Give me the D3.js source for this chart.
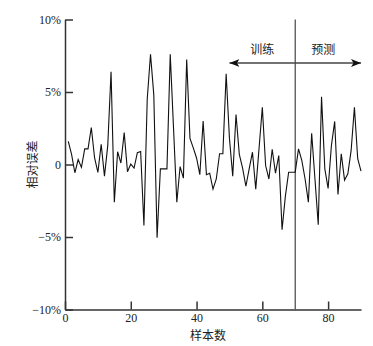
<!DOCTYPE html>
<html>
<head>
<meta charset="utf-8">
<script src="https://cdn.jsdelivr.net/npm/d3@7"></script>
<style>
  body { margin: 0; background: #fff; }
  .tick text { font-family: "Liberation Serif", "Times New Roman", serif; font-size: 12px; fill: #222; }
  .cjk { font-family: "Noto Sans CJK SC", sans-serif; font-size: 12px; fill: #222; }
</style>
</head>
<body>
<svg id="chart" width="373" height="346"></svg>
<script>
// Relative error (%) for samples 1..90
const errors = [
  1.6, 0.7, -0.57, 0.34, -0.2, 1.08, 1.08, 2.55, 0.45, -0.55,
  1.4, -0.8, 1.3, 6.4, -2.6, 0.88, 0.1, 2.2, -0.5, 0.03,
  -0.25, 0.82, 0.9, -4.2, 4.5, 7.6, 4.8, -5.05, -0.3, -0.3,
  -0.3, 7.6, 2.5, -2.6, -0.14, -0.94, 7.24, 1.8, 1.15, 0.45,
  -0.7, 3.0, -0.7, -0.6, -1.7, -1.0, 0.74, 0.74, 6.26, 1.8,
  -0.8, 3.45, 0.7, -0.25, -1.5, -0.3, 0.85, -1.7, 1.1, 3.95,
  -0.07, -1.0, 1.05, -0.6, 0.62, -4.5, -2.2, -0.53, -0.53, -0.53,
  1.08, 0.28, -1.0, -2.6, 2.16, -1.0, -4.16, 4.67, -0.3, -1.65,
  1.3, 2.97, -2.07, 0.74, -1.08, -0.64, 0.97, 3.95, 0.4, -0.45
];
const xTicks = [0, 20, 40, 60, 80];
const yTicks = [10, 5, 0, -5, -10];
const yTickLabels = ["10%", "5%", "0", "\u22125%", "\u221210%"];
const splitAt = 70;           // train / predict boundary
const arrowFrom = 50, arrowTo = 90, arrowLevel = 7;

const svg = d3.select("#chart");
const mLeft = 65, mRight = 361, mTop = 19.5, mBottom = 309.5;

const x = d3.scaleLinear().domain([0, 90]).range([mLeft, mRight]);
const y = d3.scaleLinear().domain([-10, 10]).range([mBottom, mTop]);

// axes
const yAxis = d3.axisLeft(y).tickValues(yTicks)
  .tickFormat((d, i) => yTickLabels[i])
  .tickSizeInner(-8).tickSizeOuter(0).tickPadding(4);
const xAxis = d3.axisBottom(x).tickValues(xTicks)
  .tickSizeInner(-8).tickSizeOuter(0).tickPadding(4);

const gy = svg.append("g").attr("transform", `translate(${mLeft},0)`).call(yAxis);
const gx = svg.append("g").attr("transform", `translate(0,${mBottom})`).call(xAxis);
[gx, gy].forEach(g => {
  g.select(".domain").attr("stroke", "#333").attr("stroke-width", 1.5);
  g.selectAll(".tick line").attr("stroke", "#333").attr("stroke-width", 1.5);
});

// split line
svg.append("line")
  .attr("x1", x(splitAt)).attr("x2", x(splitAt))
  .attr("y1", y(10)).attr("y2", y(-10))
  .attr("stroke", "#444").attr("stroke-width", 1.2);

// double arrow
const defs = svg.append("defs");
defs.append("marker").attr("id", "head")
  .attr("viewBox", "0 0 10 8").attr("refX", 10).attr("refY", 4)
  .attr("markerWidth", 10).attr("markerHeight", 8)
  .attr("markerUnits", "userSpaceOnUse").attr("orient", "auto-start-reverse")
  .append("path").attr("d", "M0,0 L10,4 L0,8 L2.5,4 Z").attr("fill", "#111");

svg.append("line")
  .attr("x1", x(arrowFrom)).attr("x2", x(arrowTo))
  .attr("y1", y(arrowLevel)).attr("y2", y(arrowLevel))
  .attr("stroke", "#444").attr("stroke-width", 1.3)
  .attr("marker-start", "url(#head)").attr("marker-end", "url(#head)");

svg.append("text").attr("class", "cjk")
  .attr("x", x(60)).attr("y", y(arrowLevel) - 9)
  .attr("text-anchor", "middle").text("训练");
svg.append("text").attr("class", "cjk")
  .attr("x", x(78.5)).attr("y", y(arrowLevel) - 9)
  .attr("text-anchor", "middle").text("预测");

// error line
const line = d3.line()
  .x((d, i) => x(i + 1))
  .y(d => y(d));
svg.append("path").datum(errors)
  .attr("d", line)
  .attr("fill", "none")
  .attr("stroke", "#111")
  .attr("stroke-width", 1.1)
  .attr("stroke-linejoin", "miter");

// axis titles
svg.append("text").attr("class", "cjk")
  .attr("x", x(43.5)).attr("y", 340)
  .attr("text-anchor", "middle").text("样本数");
svg.append("text").attr("class", "cjk")
  .attr("transform", `translate(37,${y(0)}) rotate(-90)`)
  .attr("text-anchor", "middle").text("相对误差");
</script>
</body>
</html>
